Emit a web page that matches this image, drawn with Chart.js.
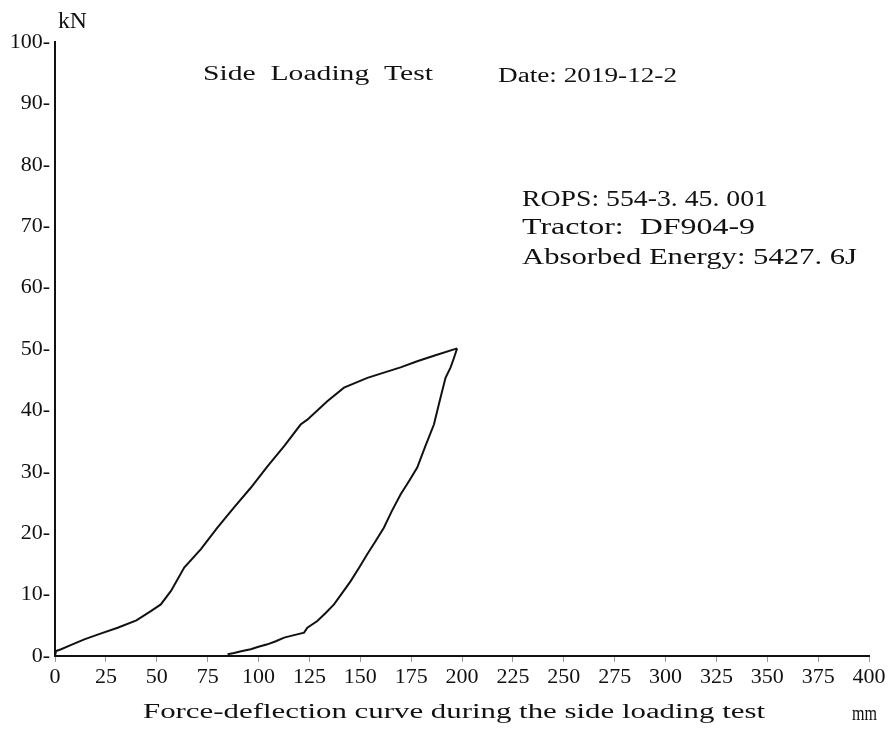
<!DOCTYPE html>
<html>
<head>
<meta charset="utf-8">
<script src="https://cdn.jsdelivr.net/npm/chart.js@4/dist/chart.umd.min.js"></script>
<style>
  body { margin: 0; background: #fff; }
</style>
</head>
<body>
<canvas id="chart" width="893" height="731"></canvas>
<script>
// loading branch (mm, kN)
const loadX = [0, 0.5, 3, 8, 14.4, 22, 30.8, 40, 47.1, 52, 57, 63.5, 71.7, 79.8, 88, 96.2, 104.4, 112.6, 120.7, 124, 133.8, 142, 153.5, 162, 169.8, 178, 186.2, 197.6];
const loadY = [0, 0.8, 1.1, 1.8, 2.7, 3.6, 4.6, 5.8, 7.3, 8.4, 10.6, 14.4, 17.4, 20.9, 24.2, 27.4, 30.9, 34.2, 37.7, 38.5, 41.5, 43.7, 45.3, 46.2, 47, 48, 48.9, 50.1];
// unloading branch
const unloadX = [197.6, 196, 194.4, 191.9, 189, 186.2, 182, 178, 174, 169.8, 165.5, 161.6, 157.5, 153.5, 149.5, 145.3, 141, 137.1, 133, 128.9, 124, 122.4, 117.5, 112.6, 108.5, 104.4, 100, 96.2, 92, 88, 84.8];
const unloadY = [50.1, 48.5, 47, 45.3, 41.5, 37.7, 34.2, 30.7, 28.5, 26.3, 23.6, 20.9, 18.7, 16.6, 14.4, 12.2, 10.2, 8.4, 7.0, 5.7, 4.6, 3.8, 3.4, 3.0, 2.4, 1.9, 1.5, 1.1, 0.8, 0.5, 0.3];

const xTicks = [0, 25, 50, 75, 100, 125, 150, 175, 200, 225, 250, 275, 300, 325, 350, 375, 400];
const yTicks = [0, 10, 20, 30, 40, 50, 60, 70, 80, 90, 100];

const FONT = '"Liberation Serif", "DejaVu Serif", serif';

const toPoints = (xs, ys) => xs.map((x, i) => ({ x: x, y: ys[i] }));

// text squeezed/stretched to the width it has in the printout
function fitText(ctx, str, left, y, width, size) {
  ctx.font = size + 'px ' + FONT;
  const w = ctx.measureText(str).width;
  ctx.save();
  ctx.translate(left, y);
  ctx.scale(width / w, 1);
  ctx.textBaseline = 'middle';
  ctx.textAlign = 'left';
  ctx.fillStyle = '#111';
  ctx.fillText(str, 0, 0);
  ctx.restore();
}

const annotations = {
  id: 'annotations',
  afterDraw(chart) {
    const ctx = chart.ctx;
    fitText(ctx, 'kN', 58, 22, 29, 24);
    fitText(ctx, 'Side  Loading  Test', 203, 75, 230, 20);
    fitText(ctx, 'Date: 2019-12-2', 498, 77, 179, 20);
    fitText(ctx, 'ROPS: 554-3. 45. 001', 522, 200, 246, 24);
    fitText(ctx, 'Tractor:  DF904-9', 522, 228, 233, 24);
    fitText(ctx, 'Absorbed Energy: 5427. 6J', 522, 258, 335, 24);
    fitText(ctx, 'Force-deflection curve during the side loading test', 143, 713, 622, 20);
    fitText(ctx, 'mm', 852, 715, 25, 20);
  }
};

new Chart(document.getElementById('chart'), {
  type: 'scatter',
  data: {
    datasets: [
      {
        label: 'Loading',
        data: toPoints(loadX, loadY),
        showLine: true,
        borderColor: '#111',
        borderWidth: 2,
        pointRadius: 0,
        tension: 0
      },
      {
        label: 'Unloading',
        data: toPoints(unloadX, unloadY),
        showLine: true,
        borderColor: '#111',
        borderWidth: 2,
        pointRadius: 0,
        tension: 0
      }
    ]
  },
  options: {
    responsive: false,
    animation: false,
    layout: { padding: { top: 42, right: 24, left: 0, bottom: 0 } },
    plugins: {
      legend: { display: false },
      tooltip: { enabled: false }
    },
    scales: {
      x: {
        type: 'linear',
        min: 0,
        max: 400,
        afterFit: (s) => { s.height = 75; },
        afterBuildTicks: (s) => { s.ticks = xTicks.map(v => ({ value: v })); },
        border: { color: '#111', width: 2 },
        grid: { drawOnChartArea: false, drawTicks: true, tickLength: 6, color: '#999' },
        ticks: {
          color: '#111',
          padding: 2,
          maxRotation: 0,
          autoSkip: false,
          font: { family: FONT, size: 22 }
        }
      },
      y: {
        type: 'linear',
        min: 0,
        max: 100,
        afterFit: (s) => { s.width = 55; },
        afterBuildTicks: (s) => { s.ticks = yTicks.map(v => ({ value: v })); },
        border: { color: '#111', width: 2 },
        grid: { drawOnChartArea: false, drawTicks: false },
        ticks: {
          color: '#111',
          padding: 5,
          font: { family: FONT, size: 22 },
          callback: (v) => v + '-'
        }
      }
    }
  },
  plugins: [annotations]
});
</script>
</body>
</html>
